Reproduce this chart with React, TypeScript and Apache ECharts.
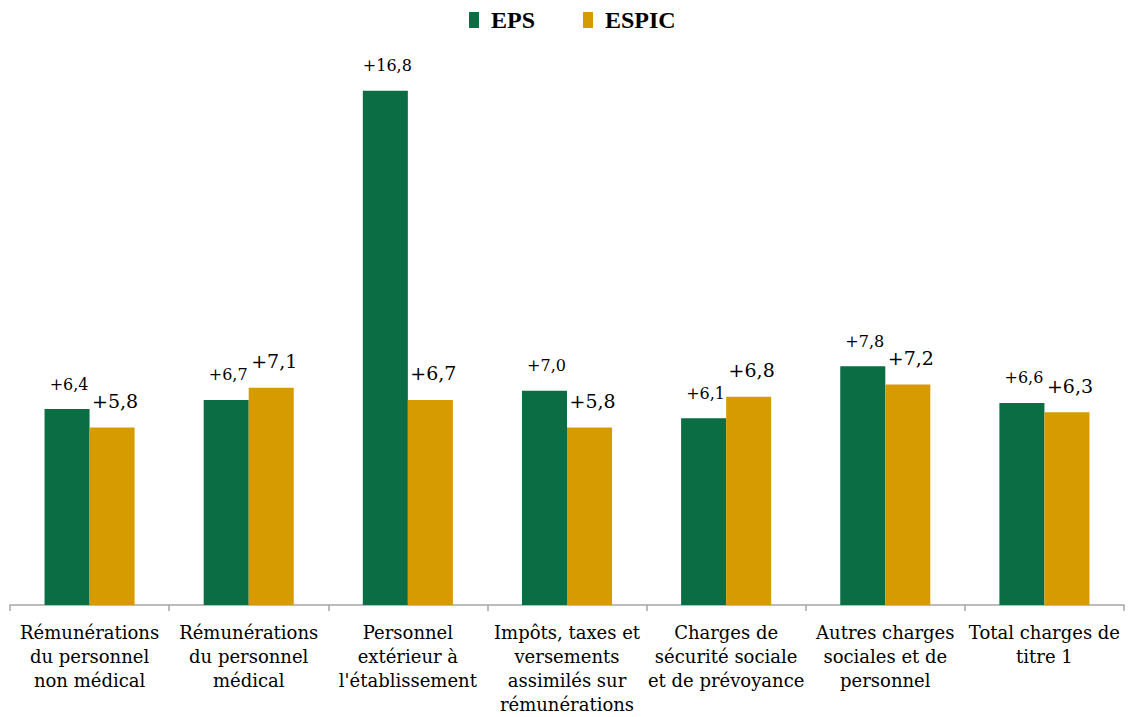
import React, { useEffect, useRef } from "react";
import * as echarts from "echarts";

const categories = [
  "Rémunérations\ndu personnel\nnon médical",
  "Rémunérations\ndu personnel\nmédical",
  "Personnel\nextérieur à\nl'établissement",
  "Impôts, taxes et\nversements\nassimilés sur\nrémunérations",
  "Charges de\nsécurité sociale\net de prévoyance",
  "Autres charges\nsociales et de\npersonnel",
  "Total charges de\ntitre 1",
];
const epsValues = [6.4, 6.7, 16.8, 7.0, 6.1, 7.8, 6.6];
const espicValues = [5.8, 7.1, 6.7, 5.8, 6.8, 7.2, 6.3];

const fmt = (v: number) => "+" + v.toFixed(1).replace(".", ",");

export default function App() {
  const ref = useRef<HTMLDivElement>(null);
  useEffect(() => {
    if (!ref.current) return;
    const chart = echarts.init(ref.current, null, { renderer: "svg" });
    chart.setOption({
      animation: false,
      legend: {
        top: 3,
        left: 464,
        itemWidth: 10,
        itemHeight: 16,
        itemGap: 48,
        icon: "rect",
        textStyle: {
          fontFamily: "Liberation Serif",
          fontWeight: "bold",
          fontSize: 24,
          color: "#000",
          padding: [0, 0, 0, 7],
        },
        data: ["EPS", "ESPIC"],
      },
      grid: {
        left: 10,
        right: 7,
        top: 54,
        bottom: 112,
        containLabel: false,
        outerBoundsMode: "none",
      },
      xAxis: {
        type: "category",
        data: categories,
        axisLine: { lineStyle: { color: "#a6a6a6", width: 1.5 } },
        axisTick: { show: true, length: 6, lineStyle: { color: "#a6a6a6", width: 1.5 } },
        axisLabel: {
          interval: 0,
          margin: 15,
          fontFamily: "DejaVu Serif",
          fontSize: 18,
          lineHeight: 24,
          color: "#000",
        },
      },
      yAxis: { type: "value", min: 0, max: 18, show: false, splitLine: { show: false } },
      series: [
        {
          name: "EPS",
          type: "bar",
          data: epsValues,
          barWidth: "28.3%",
          barGap: "0%",
          itemStyle: { color: "#0A6D44" },
          label: {
            show: true,
            position: "top",
            distance: 17,
            offset: [2, 0],
            formatter: (p: any) => fmt(p.value),
            fontFamily: "DejaVu Serif",
            fontSize: 16,
            color: "#000",
          },
        },
        {
          name: "ESPIC",
          type: "bar",
          data: espicValues,
          barWidth: "28.3%",
          itemStyle: { color: "#D69B00" },
          label: {
            show: true,
            position: "top",
            distance: 17,
            offset: [3, 0],
            formatter: (p: any) => fmt(p.value),
            fontFamily: "DejaVu Serif",
            fontSize: 19,
            color: "#000",
          },
        },
      ],
    });
    return () => chart.dispose();
  }, []);
  return <div ref={ref} style={{ width: 1131, height: 717, position: "absolute", left: 0, top: 0 }} />;
}
